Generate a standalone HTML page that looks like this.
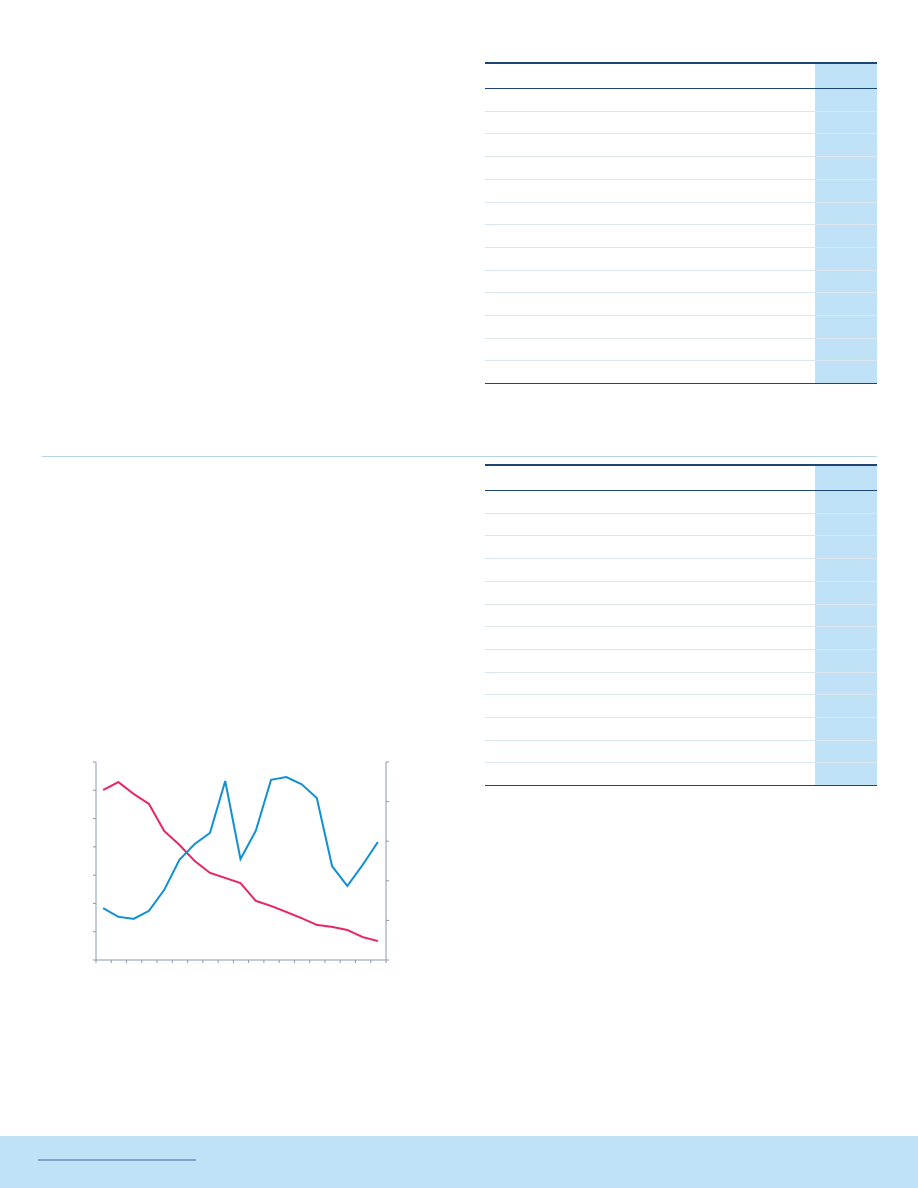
<!DOCTYPE html>
<html><head><meta charset="utf-8"><style>
body{margin:0;width:918px;height:1188px;position:relative;background:#fff;font-family:"Liberation Sans",sans-serif;overflow:hidden}
.abs{position:absolute}
</style></head><body>
<div id="t1" class="abs"></div>
<div id="t2" class="abs"></div>
<div class="abs" style="left:42px;top:456px;width:835px;height:1px;background:#b9d3e6"></div>
<svg class="abs" style="left:0;top:0" width="918" height="1188" id="chart"></svg>
<div class="abs" style="left:0;top:1136px;width:918px;height:52px;background:#c0e2f7"></div>
<div class="abs" style="left:38px;top:1159px;width:158px;height:2px;background:#7d9fcc"></div>
<script>
const categories=["1","2","3","4","5","6","7","8","9","10","11","12","13","14","15","16","17","18","19"];
const pinkValues=[60.1,62.9,58.7,55.2,45.6,40.7,35,30.8,29,27.2,20.9,19.1,17,14.8,12.4,11.7,10.6,8.1,6.7];
const blueValues=[13.1,10.9,10.4,12.4,17.7,25.3,29.3,32.1,45.2,25.5,32.6,45.5,46.2,44.4,40.9,23.7,18.7,24,29.8];
const leftTicks=[0,10,20,30,40,50,60,70];
const rightTicks=[0,10,20,30,40,50];

function makeTable(el,top,lines){
  el.style.left='485px';el.style.top=top+'px';el.style.width='392px';el.style.height='322px';
  let h='<div style="position:absolute;left:330px;top:0;width:62px;height:322px;background:#c0e2f7"></div>';
  h+='<div style="position:absolute;left:0;top:0;width:392px;height:2px;background:#1d4677"></div>';
  h+='<div style="position:absolute;left:0;top:26px;width:392px;height:1px;background:#1d4677"></div>';
  lines.forEach((y,i)=>{h+='<div style="position:absolute;left:0;top:'+y+'px;width:392px;height:1px;background:'+(i==lines.length-1?'#1d4677':'#dbe6ef')+'"></div>';});
  el.innerHTML=h;
}
const rl=[];for(let i=1;i<=13;i++)rl.push(Math.round(26+i*22.7));
makeTable(document.getElementById('t1'),62,rl);
makeTable(document.getElementById('t2'),464,rl);

const svg=document.getElementById('chart');const NS='http://www.w3.org/2000/svg';
const x0=96,x1=386,yb=960,yt=762;
const band=(x1-x0)/categories.length;
const xs=i=>x0+band*(i+0.5)-0.5;
const yl=v=>yb-(v-0)/(70)*(yb-yt);
const yr=v=>yb-(v-0)/(50)*(yb-yt);
function ln(a,b,c,d,col,w){const l=document.createElementNS(NS,'line');l.setAttribute('x1',a);l.setAttribute('y1',b);l.setAttribute('x2',c);l.setAttribute('y2',d);l.setAttribute('stroke',col);l.setAttribute('stroke-width',w||1);svg.appendChild(l);return l;}
let a=ln(x0,yt,x0,yb,'#8b97b0');
a=ln(x1,yt,x1,yb,'#8b97b0');
a=ln(x0,yb,x1,yb,'#8b97b0');
leftTicks.forEach(v=>{const t=ln(x0-3,yl(v),x0,yl(v),'#8b97b0');});
rightTicks.forEach(v=>{const t=ln(x1,yr(v),x1+3,yr(v),'#8b97b0');});
for(let i=0;i<=categories.length;i++){const t=ln(x0+band*i,yb,x0+band*i,yb+3,'#8b97b0');}
function path(vals,sc,col,name){const p=document.createElementNS(NS,'polyline');
p.setAttribute('points',vals.map((v,i)=>xs(i)+','+sc(v)).join(' '));
p.setAttribute('fill','none');p.setAttribute('stroke',col);p.setAttribute('stroke-width','2');


svg.appendChild(p);}
path(pinkValues,yl,'#e8246a','pink-series-line');
path(blueValues,yr,'#0f8fd6','blue-series-line');
</script>
</body></html>
